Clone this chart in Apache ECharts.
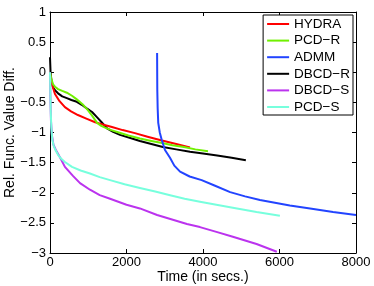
<!DOCTYPE html>
<html>
<head>
<meta charset="utf-8">
<script src="https://cdn.jsdelivr.net/npm/echarts@6/dist/echarts.min.js"></script>
<style>html,body{margin:0;padding:0;background:#fff}#c{width:374px;height:286px}</style>
</head>
<body>
<div id="c"></div>
<script>
var seriesNames = ['HYDRA', 'PCD\u2212R', 'ADMM', 'DBCD\u2212R', 'DBCD\u2212S', 'PCD\u2212S'];
var seriesColors = ['#ff0000', '#70f000', '#2244ff', '#000000', '#bb33ee', '#77ffdd'];

var hydraT = [0, 20, 60, 130, 250, 390, 550, 730, 950, 1180, 1400, 1620, 1900, 2220, 2550, 2900, 3300, 3660];
var hydraV = [0.0, -0.1, -0.22, -0.36, -0.48, -0.58, -0.65, -0.71, -0.77, -0.83, -0.87, -0.91, -0.96, -1.01, -1.07, -1.13, -1.19, -1.25];

var pcdrT = [0, 30, 80, 130, 210, 320, 440, 575, 700, 850, 990, 1100, 1230, 1340, 1440, 1600, 1800, 2050, 2350, 2650, 2900, 3200, 3500, 3800, 4130];
var pcdrV = [0.0, -0.1, -0.2, -0.24, -0.28, -0.31, -0.34, -0.39, -0.45, -0.53, -0.63, -0.72, -0.84, -0.89, -0.92, -0.96, -1.0, -1.05, -1.1, -1.14, -1.17, -1.21, -1.24, -1.28, -1.31];

var admmT = [2800, 2805, 2815, 2830, 2870, 2920, 3006, 3137, 3250, 3400, 3650, 3965, 4300, 4710, 5100, 5490, 6270, 6800, 7400, 8000];
var admmV = [0.32, -0.29, -0.6, -0.84, -1.0, -1.12, -1.29, -1.42, -1.55, -1.65, -1.73, -1.79, -1.88, -1.99, -2.06, -2.12, -2.21, -2.26, -2.32, -2.37];

var dbcdrT = [0, 15, 40, 80, 130, 210, 320, 440, 560, 700, 830, 960, 1100, 1220, 1350, 1490, 1650, 1830, 2100, 2350, 2650, 2950, 3300, 3660, 4000, 4370, 4750, 5120];
var dbcdrV = [0.25, 0.0, -0.15, -0.25, -0.3, -0.35, -0.4, -0.43, -0.46, -0.49, -0.54, -0.6, -0.66, -0.74, -0.83, -0.93, -0.99, -1.04, -1.09, -1.14, -1.19, -1.24, -1.28, -1.32, -1.35, -1.38, -1.42, -1.46];

var dbcdsT = [0, 10, 25, 50, 90, 160, 260, 390, 600, 785, 1045, 1300, 1570, 2000, 2350, 2800, 3060, 3580, 3920, 4350, 4780, 5400, 5930];
var dbcdsV = [0.0, -0.4, -0.8, -1.05, -1.2, -1.3, -1.41, -1.57, -1.72, -1.84, -1.95, -2.04, -2.1, -2.2, -2.26, -2.37, -2.42, -2.52, -2.57, -2.65, -2.73, -2.85, -2.98];

var pcdsT = [0, 10, 20, 35, 60, 100, 150, 210, 300, 390, 575, 800, 1045, 1300, 1570, 1950, 2350, 2750, 3140, 3520, 3920, 4350, 4780, 5400, 6010];
var pcdsV = [0.0, -0.35, -0.65, -0.92, -1.12, -1.23, -1.3, -1.37, -1.44, -1.49, -1.57, -1.63, -1.68, -1.74, -1.79, -1.86, -1.92, -1.98, -2.04, -2.1, -2.15, -2.2, -2.25, -2.32, -2.38];

var xTicks = [0, 2000, 4000, 6000, 8000];
var yTicks = [-3, -2.5, -2, -1.5, -1, -0.5, 0, 0.5, 1];

var allT = [hydraT, pcdrT, admmT, dbcdrT, dbcdsT, pcdsT];
var allV = [hydraV, pcdrV, admmV, dbcdrV, dbcdsV, pcdsV];

function pairs(t, v) { return t.map(function (x, i) { return [x, v[i]]; }); }
function fmt(v) { return String(v).replace('-', '\u2212'); }

var FONT = 'Liberation Sans, Arial, sans-serif';
var axisCommon = {
  axisLine: { show: true, onZero: false, lineStyle: { color: '#000', width: 1 } },
  axisTick: { show: true, inside: true, length: 4, lineStyle: { color: '#000' } },
  splitLine: { show: false }
};

var series = seriesNames.map(function (n, i) {
  return {
    name: n, type: 'line', data: pairs(allT[i], allV[i]),
    showSymbol: false, symbol: 'none', smooth: false,
    lineStyle: { color: seriesColors[i], width: 2, join: 'round' }, itemStyle: { color: seriesColors[i] },
    z: 10 - (i === 3 ? 5 : 0)
  };
});

var chart = echarts.init(document.getElementById('c'), null, { renderer: 'canvas' });
chart.setOption({
  animation: false,
  backgroundColor: '#fff',
  grid: { left: 50, right: 18, top: 12, bottom: 33, containLabel: false, outerBoundsMode: 'none' },
  xAxis: [
    Object.assign({
      type: 'value', min: 0, max: 8000, interval: 2000, position: 'bottom',
      name: 'Time (in secs.)', nameLocation: 'middle', nameGap: 17, nameMoveOverlap: false,
      nameTextStyle: { fontFamily: FONT, fontSize: 14, color: '#000' },
      axisLabel: { fontFamily: FONT, fontSize: 13, color: '#000', margin: 3, formatter: function (v) { return String(v); } }
    }, axisCommon),
    Object.assign({
      type: 'value', min: 0, max: 8000, interval: 2000, position: 'top',
      axisLabel: { show: false }
    }, axisCommon)
  ],
  yAxis: [
    Object.assign({
      type: 'value', min: -3, max: 1, interval: 0.5, position: 'left',
      name: 'Rel. Func. Value Diff.', nameLocation: 'middle', nameGap: 33, nameMoveOverlap: false,
      nameTextStyle: { fontFamily: FONT, fontSize: 14, color: '#000' },
      axisLabel: { fontFamily: FONT, fontSize: 13, color: '#000', margin: 4, formatter: fmt }
    }, axisCommon),
    Object.assign({
      type: 'value', min: -3, max: 1, interval: 0.5, position: 'right',
      axisLabel: { show: false }
    }, axisCommon)
  ],
  legend: {
    orient: 'vertical', right: 21, top: 15,
    data: seriesNames, icon: 'rect', itemWidth: 22, itemHeight: 2, itemGap: 0.6,
    backgroundColor: '#fff', borderColor: '#000', borderWidth: 1, borderRadius: 0,
    padding: [1, 3, 0, 4],
    textStyle: { fontFamily: FONT, fontSize: 13.5, color: '#000', lineHeight: 16 }
  },
  series: series
});
</script>
</body>
</html>
